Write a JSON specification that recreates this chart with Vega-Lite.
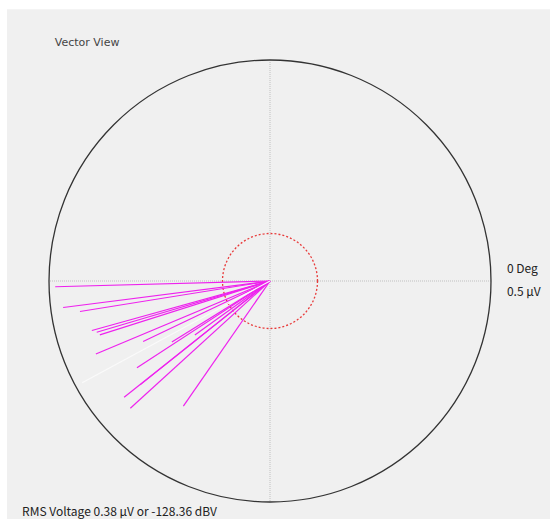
{
  "$schema": "https://vega.github.io/schema/vega-lite/v6.json",
  "width": 442,
  "height": 442,
  "autosize": "none",
  "padding": {"left": 49, "top": 60, "right": 59, "bottom": 17},
  "background": "white",
  "config": {"view": {"stroke": null}},
  "datasets": {
    "vectors": [
      {"x0": 0, "y0": 0, "x": -0.486, "y": -0.013, "kind": "vector"},
      {"x0": 0, "y0": 0, "x": -0.468, "y": -0.060, "kind": "vector"},
      {"x0": 0, "y0": 0, "x": -0.430, "y": -0.069, "kind": "vector"},
      {"x0": 0, "y0": 0, "x": -0.403, "y": -0.112, "kind": "vector"},
      {"x0": 0, "y0": 0, "x": -0.392, "y": -0.116, "kind": "vector"},
      {"x0": 0, "y0": 0, "x": -0.385, "y": -0.122, "kind": "vector"},
      {"x0": 0, "y0": 0, "x": -0.394, "y": -0.165, "kind": "vector"},
      {"x0": 0, "y0": 0, "x": -0.287, "y": -0.137, "kind": "vector"},
      {"x0": 0, "y0": 0, "x": -0.301, "y": -0.196, "kind": "vector"},
      {"x0": 0, "y0": 0, "x": -0.294, "y": -0.235, "kind": "vector"},
      {"x0": 0, "y0": 0, "x": -0.330, "y": -0.263, "kind": "vector"},
      {"x0": 0, "y0": 0, "x": -0.316, "y": -0.288, "kind": "vector"},
      {"x0": 0, "y0": 0, "x": -0.196, "y": -0.283, "kind": "vector"},
      {"x0": 0, "y0": 0, "x": -0.222, "y": -0.138, "kind": "vector"},
      {"x0": 0, "y0": 0, "x": -0.170, "y": -0.122, "kind": "vector"},
      {"x0": 0, "y0": 0, "x": -0.425, "y": -0.230, "kind": "reference"}
    ]
  },
  "layer": [
    {
      "data": {"values": [{"x0": -0.595, "x1": 0.64, "y0": -0.54, "y1": 0.615}]},
      "mark": {"type": "rect", "fill": "#f0f0f0"},
      "encoding": {
        "x": {"field": "x0", "type": "quantitative", "scale": {"domain": [-0.5, 0.5], "nice": false, "zero": false}, "axis": null},
        "x2": {"field": "x1"},
        "y": {"field": "y0", "type": "quantitative", "scale": {"domain": [-0.5, 0.5], "nice": false, "zero": false}, "axis": null},
        "y2": {"field": "y1"}
      }
    },
    {
      "data": {"values": [{"v": 0}]},
      "mark": {"type": "rule", "color": "#c0c0c0", "strokeDash": [1, 1], "strokeWidth": 1},
      "encoding": {
        "x": {"field": "v", "type": "quantitative"}
      }
    },
    {
      "data": {"values": [{"v": 0}]},
      "mark": {"type": "rule", "color": "#c0c0c0", "strokeDash": [1, 1], "strokeWidth": 1},
      "encoding": {
        "y": {"field": "v", "type": "quantitative"}
      }
    },
    {
      "data": {"values": [{"v": 0}]},
      "mark": {"type": "point", "shape": "circle", "filled": false, "stroke": "#333333", "strokeWidth": 1.3, "size": 195364, "opacity": 1},
      "encoding": {
        "x": {"field": "v", "type": "quantitative"},
        "y": {"field": "v", "type": "quantitative"}
      }
    },
    {
      "data": {"values": [{"v": 0}]},
      "mark": {"type": "point", "shape": "circle", "filled": false, "stroke": "#e83a3a", "strokeWidth": 1.3, "strokeDash": [2, 2], "size": 9025, "opacity": 1},
      "encoding": {
        "x": {"field": "v", "type": "quantitative"},
        "y": {"field": "v", "type": "quantitative"}
      }
    },
    {
      "data": {"name": "vectors"},
      "mark": {"type": "rule", "strokeWidth": 1.2},
      "encoding": {
        "x": {"field": "x0", "type": "quantitative"},
        "y": {"field": "y0", "type": "quantitative"},
        "x2": {"field": "x"},
        "y2": {"field": "y"},
        "color": {"field": "kind", "type": "nominal", "scale": {"domain": ["vector", "reference"], "range": ["#ee22ee", "#fafafa"]}, "legend": null}
      }
    },
    {
      "data": {"values": [{"label": "Vector View", "x": -0.487, "y": 0.538}]},
      "mark": {"type": "text", "align": "left", "baseline": "middle", "font": "DejaVu Sans", "fontSize": 11, "color": "#444444"},
      "encoding": {
        "x": {"field": "x", "type": "quantitative"},
        "y": {"field": "y", "type": "quantitative"},
        "text": {"field": "label"}
      }
    },
    {
      "data": {"values": [
        {"label": "0 Deg", "x": 0.536, "y": 0.027},
        {"label": "0.5 μV", "x": 0.536, "y": -0.025},
        {"label": "RMS Voltage 0.38 μV or -128.36 dBV", "x": -0.561, "y": -0.523}
      ]},
      "mark": {"type": "text", "align": "left", "baseline": "middle", "font": "Noto Sans CJK JP", "fontSize": 12, "color": "#222222"},
      "encoding": {
        "x": {"field": "x", "type": "quantitative"},
        "y": {"field": "y", "type": "quantitative"},
        "text": {"field": "label"}
      }
    }
  ]
}
